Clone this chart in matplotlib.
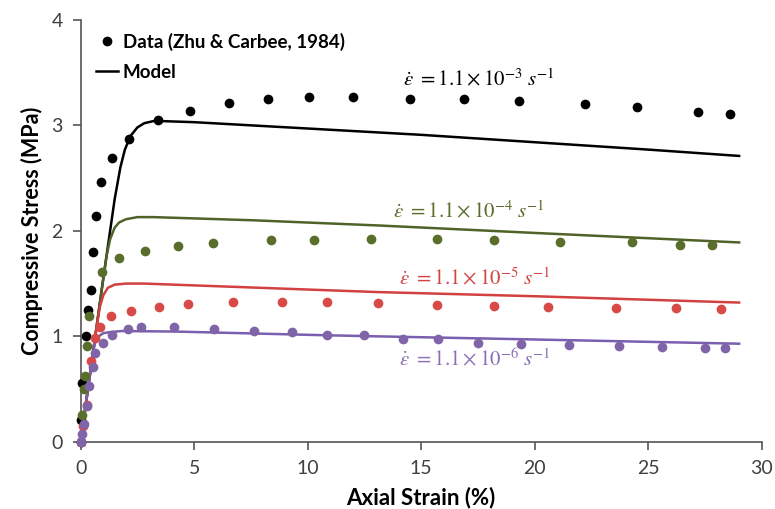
import matplotlib.pyplot as plt
from matplotlib.lines import Line2D

plt.rcParams.update({
    'font.family': ['Lato', 'DejaVu Sans'],
    'mathtext.fontset': 'stix',
})

# experimental data (Zhu & Carbee, 1984), strain in %, stress in MPa
strain_3 = [0, 0.02, 0.07, 0.22, 0.31, 0.48, 0.56, 0.67, 0.88, 1.39, 2.14, 3.42, 4.81,
            6.53, 8.25, 10.05, 12.0, 14.5, 16.9, 19.3, 22.2, 24.5, 27.2, 28.6]
stress_3 = [0, 0.21, 0.56, 1.0, 1.25, 1.44, 1.80, 2.14, 2.46, 2.69, 2.87, 3.05, 3.14,
            3.21, 3.25, 3.27, 3.27, 3.25, 3.25, 3.23, 3.20, 3.17, 3.13, 3.11]

strain_4 = [0, 0.05, 0.15, 0.19, 0.26, 0.37, 0.95, 1.7, 2.83, 4.3, 5.84, 8.4, 10.3,
            12.8, 15.7, 18.2, 21.1, 24.3, 26.4, 27.8]
stress_4 = [0, 0.25, 0.5, 0.62, 0.91, 1.19, 1.61, 1.74, 1.81, 1.86, 1.88, 1.91, 1.91,
            1.92, 1.92, 1.91, 1.89, 1.89, 1.87, 1.87]

strain_5 = [0, 0.1, 0.26, 0.45, 0.63, 0.85, 1.33, 2.2, 3.46, 4.74, 6.72, 8.88, 10.86,
            13.1, 15.7, 18.2, 20.6, 23.6, 26.2, 28.2]
stress_5 = [0, 0.15, 0.35, 0.77, 0.98, 1.09, 1.19, 1.24, 1.28, 1.31, 1.33, 1.33, 1.33,
            1.32, 1.30, 1.29, 1.28, 1.27, 1.27, 1.26]

strain_6 = [0, 0.04, 0.15, 0.26, 0.38, 0.56, 0.63, 0.97, 1.37, 2.1, 2.64, 4.11, 5.89,
            7.65, 9.3, 10.86, 12.5, 14.2, 15.75, 17.5, 19.4, 21.5, 23.7, 25.6, 27.5, 28.4]
stress_6 = [0, 0.07, 0.17, 0.34, 0.53, 0.71, 0.84, 0.94, 1.01, 1.07, 1.09, 1.09, 1.07,
            1.05, 1.04, 1.01, 1.01, 0.975, 0.97, 0.94, 0.93, 0.92, 0.91, 0.90, 0.89, 0.89]

# model curves
m_strain_3 = [0, 1.0, 1.5, 1.75, 1.95, 2.2, 2.5, 2.8, 3.2, 3.6, 5, 10, 15, 20, 25, 29]
m_stress_3 = [0, 1.55, 2.3, 2.6, 2.77, 2.9, 2.98, 3.02, 3.04, 3.04, 3.03, 2.97, 2.91, 2.84, 2.77, 2.71]

m_strain_4 = [0, 1.0, 1.15, 1.3, 1.5, 1.7, 2.0, 2.5, 3.2, 7.6, 13.2, 20, 25, 29]
m_stress_4 = [0, 1.55, 1.77, 1.92, 2.03, 2.08, 2.11, 2.13, 2.13, 2.10, 2.05, 1.98, 1.93, 1.89]

m_strain_5 = [0, 0.7, 0.85, 1.0, 1.2, 1.5, 2.0, 2.8, 13, 20, 29]
m_stress_5 = [0, 1.08, 1.28, 1.39, 1.46, 1.49, 1.50, 1.50, 1.42, 1.38, 1.32]

m_strain_6 = [0, 0.55, 0.65, 0.8, 1.0, 1.3, 1.8, 4.2, 10.8, 13, 20, 29]
m_stress_6 = [0, 0.85, 0.95, 1.0, 1.03, 1.04, 1.05, 1.045, 1.01, 1.0, 0.97, 0.93]

rate_labels = [r'$\dot{\varepsilon}\ = 1.1 \times 10^{-3}\ s^{-1}$',
               r'$\dot{\varepsilon}\ = 1.1 \times 10^{-4}\ s^{-1}$',
               r'$\dot{\varepsilon}\ = 1.1 \times 10^{-5}\ s^{-1}$',
               r'$\dot{\varepsilon}\ = 1.1 \times 10^{-6}\ s^{-1}$']
label_pos = [(14.2, 3.44), (13.75, 2.19), (14.0, 1.56), (14.0, 0.79)]

series = [
    (strain_3, stress_3, m_strain_3, m_stress_3, 'black', 'black', 'black'),
    (strain_4, stress_4, m_strain_4, m_stress_4, '#5a6e2b', '#4f6228', '#5a6e2b'),
    (strain_5, stress_5, m_strain_5, m_stress_5, '#d84a48', '#d24040', '#d04545'),
    (strain_6, stress_6, m_strain_6, m_stress_6, '#8064a8', '#7a5eb0', '#8a70b4'),
]

fig = plt.figure(figsize=(7.75, 5.09), dpi=100)
ax = fig.add_axes([0.104, 0.132, 0.879, 0.829])

for (sx, sy, mx, my, dot_c, line_c, txt_c), lab, pos in zip(series, rate_labels, label_pos):
    ax.plot(mx, my, color=line_c, lw=1.8, zorder=2)
    ax.plot(sx, sy, 'o', color=dot_c, ms=7, mec='none', zorder=3, clip_on=False)
    ax.text(pos[0], pos[1], lab, color=txt_c, fontsize=15, ha='left', va='center')

ax.set_xlim(0, 30)
ax.set_ylim(0, 4)
ax.set_xticks([0, 5, 10, 15, 20, 25, 30])
ax.set_yticks([0, 1, 2, 3, 4])

for s in ['top', 'right']:
    ax.spines[s].set_visible(False)
for s in ['left', 'bottom']:
    ax.spines[s].set_color('#555555')
    ax.spines[s].set_linewidth(1.2)
ax.tick_params(direction='out', length=6, width=1.2, color='#555555',
               labelsize=14, labelcolor='#404040', pad=7)

ax.set_xlabel('Axial Strain (%)', fontsize=16, fontweight='bold', labelpad=7)
ax.set_ylabel('Compressive Stress (MPa)', fontsize=15.5, fontweight='bold', labelpad=6)

handles = [Line2D([], [], ls='none', marker='o', color='black', ms=7, mec='none'),
           Line2D([], [], color='black', lw=1.8)]
ax.legend(handles, ['Data (Zhu & Carbee, 1984)', 'Model'], loc='upper left',
          bbox_to_anchor=(0.022, 0.97), borderaxespad=0, borderpad=0,
          frameon=False, handlelength=1.2, handletextpad=0.25, labelspacing=0.7,
          prop={'size': 13.5, 'weight': 'bold'})

fig.savefig('out.png', dpi=100)
